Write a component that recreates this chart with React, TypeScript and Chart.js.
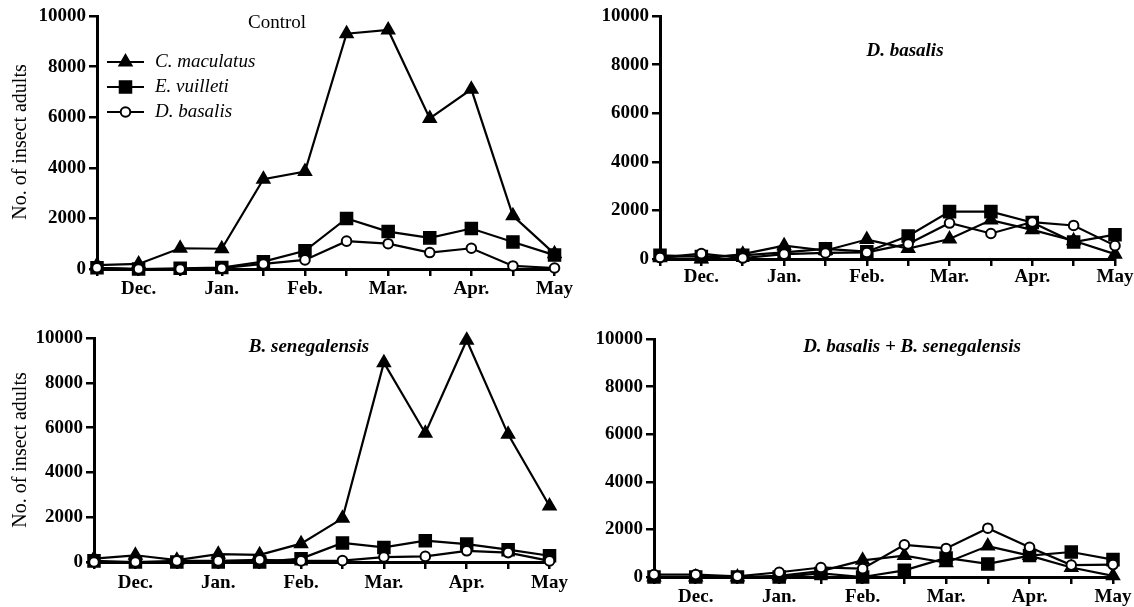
import React, { useEffect, useRef } from 'react';
import { Chart, registerables } from 'chart.js';

Chart.register(...registerables);

// ---- Data ----
const monthLabels = ['', 'Dec.', '', 'Jan.', '', 'Feb.', '', 'Mar.', '', 'Apr.', '', 'May'];
const seriesNames = ['C. maculatus', 'E. vuilleti', 'D. basalis'];
const yMin = 0;
const yMax = 10000;
const yStep = 2000;

// Control
const controlMaculatus = [150, 200, 820, 800, 3550, 3850, 9300, 9450, 5950, 7100, 2100, 600];
const controlVuilleti = [50, 0, 30, 60, 290, 720, 2000, 1480, 1230, 1600, 1070, 550];
const controlBasalis = [50, 0, 0, 30, 200, 360, 1100, 1000, 650, 820, 120, 40];

// D. basalis
const basalisMaculatus = [50, 0, 200, 550, 350, 800, 430, 820, 1600, 1200, 750, 200];
const basalisVuilleti = [150, 100, 150, 270, 420, 300, 950, 1950, 1950, 1500, 700, 1000];
const basalisBasalis = [60, 220, 40, 200, 250, 270, 620, 1480, 1050, 1520, 1380, 550];

// B. senegalensis
const senegMaculatus = [150, 300, 80, 350, 320, 820, 1950, 8900, 5750, 9900, 5700, 2500];
const senegVuilleti = [50, 0, 0, 0, 0, 150, 850, 650, 950, 800, 550, 280];
const senegBasalis = [0, 0, 50, 50, 100, 50, 60, 220, 250, 500, 420, 50];

// D. basalis + B. senegalensis
const bothMaculatus = [0, 0, 0, 50, 250, 700, 900, 600, 1300, 900, 400, 50];
const bothVuilleti = [0, 0, 0, 0, 150, 0, 280, 800, 550, 900, 1050, 730];
const bothBasalis = [100, 100, 30, 200, 400, 350, 1350, 1200, 2050, 1250, 500, 520];

const FONT = '"Liberation Serif", "Times New Roman", serif';

type PanelCfg = {
  left: number; top: number; width: number; height: number;
  axisLeft: number; padTop: number; padRight: number; xHeight: number; tickPad: number;
  title: string; titleX: number; titleY: number; titleFont: string;
  yTitle?: { x: number; y: number };
  legend?: boolean;
  data: number[][];
};

const panels: PanelCfg[] = [
  {
    left: 0, top: 0, width: 575, height: 305,
    axisLeft: 97, padTop: 16, padRight: 20, xHeight: 36, tickPad: 2,
    title: 'Control', titleX: 277, titleY: 23, titleFont: `19px ${FONT}`,
    yTitle: { x: 21, y: 142 }, legend: true,
    data: [controlMaculatus, controlVuilleti, controlBasalis],
  },
  {
    left: 560, top: 0, width: 574, height: 305,
    axisLeft: 100, padTop: 16, padRight: 19, xHeight: 46, tickPad: 0,
    title: 'D. basalis', titleX: 345, titleY: 51, titleFont: `italic bold 19px ${FONT}`,
    data: [basalisMaculatus, basalisVuilleti, basalisBasalis],
  },
  {
    left: 0, top: 300, width: 571, height: 307,
    axisLeft: 94, padTop: 38, padRight: 20, xHeight: 45, tickPad: 3,
    title: 'B. senegalensis', titleX: 309, titleY: 47, titleFont: `italic bold 19px ${FONT}`,
    yTitle: { x: 21, y: 150 },
    data: [senegMaculatus, senegVuilleti, senegBasalis],
  },
  {
    left: 560, top: 300, width: 574, height: 307,
    axisLeft: 94, padTop: 39, padRight: 21, xHeight: 30, tickPad: 2,
    title: 'D. basalis + B. senegalensis', titleX: 352, titleY: 47, titleFont: `italic bold 19px ${FONT}`,
    data: [bothMaculatus, bothVuilleti, bothBasalis],
  },
];

const markerStyles = [
  { pointStyle: 'triangle', radius: 7.5, fill: '#000', border: 1.5, order: 3 },
  { pointStyle: 'rect', radius: 8.5, fill: '#000', border: 1.5, order: 2 },
  { pointStyle: 'circle', radius: 4.8, fill: '#fff', border: 2, order: 1 },
];

function drawMarker(ctx: CanvasRenderingContext2D, style: string, x: number, y: number, r: number, fill: string, bw: number) {
  ctx.save();
  ctx.beginPath();
  if (style === 'triangle') {
    let rad = 0;
    ctx.moveTo(x + Math.sin(rad) * r, y - Math.cos(rad) * r);
    rad += (2 * Math.PI) / 3;
    ctx.lineTo(x + Math.sin(rad) * r, y - Math.cos(rad) * r);
    rad += (2 * Math.PI) / 3;
    ctx.lineTo(x + Math.sin(rad) * r, y - Math.cos(rad) * r);
    ctx.closePath();
  } else if (style === 'rect') {
    const s = r * Math.SQRT1_2;
    ctx.rect(x - s, y - s, 2 * s, 2 * s);
  } else {
    ctx.arc(x, y, r, 0, Math.PI * 2);
  }
  ctx.fillStyle = fill;
  ctx.fill();
  ctx.lineWidth = bw;
  ctx.strokeStyle = '#000';
  ctx.stroke();
  ctx.restore();
}

function Panel({ cfg }: { cfg: PanelCfg }) {
  const ref = useRef<HTMLCanvasElement | null>(null);
  useEffect(() => {
    const canvas = ref.current;
    if (!canvas) return;
    const decor = {
      id: 'decor',
      afterDraw(chart: any) {
        const ctx: CanvasRenderingContext2D = chart.ctx;
        ctx.save();
        ctx.fillStyle = '#000';
        ctx.textAlign = 'center';
        ctx.textBaseline = 'middle';
        ctx.font = cfg.titleFont;
        ctx.fillText(cfg.title, cfg.titleX, cfg.titleY);
        if (cfg.yTitle) {
          ctx.save();
          ctx.translate(cfg.yTitle.x, cfg.yTitle.y);
          ctx.rotate(-Math.PI / 2);
          ctx.font = `20px ${FONT}`;
          ctx.fillText('No. of insect adults', 0, 0);
          ctx.restore();
        }
        if (cfg.legend) {
          const rows = [62, 87, 112];
          rows.forEach((ry, i) => {
            ctx.beginPath();
            ctx.moveTo(107, ry);
            ctx.lineTo(144, ry);
            ctx.lineWidth = 2.2;
            ctx.strokeStyle = '#000';
            ctx.stroke();
            const m = markerStyles[i];
            drawMarker(ctx, m.pointStyle, 125.5, ry, m.radius, m.fill, m.border);
            ctx.fillStyle = '#000';
            ctx.textAlign = 'left';
            ctx.textBaseline = 'middle';
            ctx.font = `italic 19px ${FONT}`;
            ctx.fillText(seriesNames[i], 155, ry);
          });
        }
        ctx.restore();
      },
    };
    const chart = new Chart(canvas, {
      type: 'line',
      data: {
        labels: monthLabels,
        datasets: cfg.data.map((d, i) => ({
          label: seriesNames[i],
          data: d,
          borderColor: '#000',
          borderWidth: 2.2,
          backgroundColor: markerStyles[i].fill,
          pointStyle: markerStyles[i].pointStyle as any,
          pointRadius: markerStyles[i].radius,
          pointBackgroundColor: markerStyles[i].fill,
          pointBorderColor: '#000',
          pointBorderWidth: markerStyles[i].border,
          tension: 0,
          clip: false as any,
          order: markerStyles[i].order,
        })),
      },
      options: {
        animation: false,
        responsive: false,
        devicePixelRatio: 1,
        events: [],
        layout: { padding: { left: 0, top: cfg.padTop, right: cfg.padRight, bottom: 0 } },
        plugins: { legend: { display: false }, tooltip: { enabled: false } },
        scales: {
          x: {
            type: 'category',
            offset: false,
            grid: { display: true, drawOnChartArea: false, drawTicks: true, tickLength: 7, color: '#000', lineWidth: 2.5 },
            border: { display: true, color: '#000', width: 3 },
            ticks: {
              autoSkip: false, maxRotation: 0, minRotation: 0, padding: cfg.tickPad,
              color: '#000', font: { family: FONT, size: 19, weight: 'bold' },
            },
            afterFit: (scale: any) => { scale.height = cfg.xHeight; },
          },
          y: {
            min: yMin, max: yMax,
            grid: { display: true, drawOnChartArea: false, drawTicks: true, tickLength: 8, color: '#000', lineWidth: 2.5 },
            border: { display: true, color: '#000', width: 3 },
            ticks: {
              stepSize: yStep, padding: 3, color: '#000',
              font: { family: FONT, size: 19, weight: 'bold' },
              callback: (v: any) => String(v),
            },
            afterFit: (scale: any) => { scale.width = cfg.axisLeft; },
          },
        },
      },
      plugins: [decor],
    } as any);
    return () => chart.destroy();
  }, [cfg]);
  return (
    <canvas
      ref={ref}
      width={cfg.width}
      height={cfg.height}
      style={{ position: 'absolute', left: cfg.left, top: cfg.top, width: cfg.width, height: cfg.height }}
    />
  );
}

export default function App() {
  return (
    <div style={{ position: 'absolute', left: 0, top: 0, width: 1134, height: 607, overflow: 'hidden', background: '#fff' }}>
      {panels.map((p, i) => (
        <Panel key={i} cfg={p} />
      ))}
    </div>
  );
}
